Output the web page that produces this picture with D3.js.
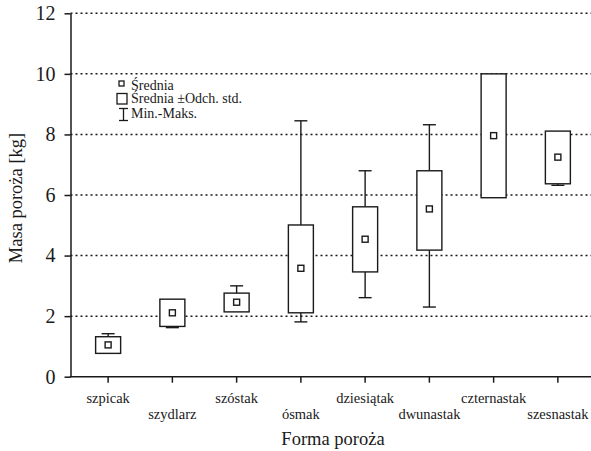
<!DOCTYPE html>
<html><head><meta charset="utf-8">
<script src="https://cdn.jsdelivr.net/npm/d3@7"></script>
<style>body{margin:0;background:#fff}svg{display:block}</style>
</head><body>
<svg id="c" width="591" height="451" style="font-family:'Liberation Serif'"></svg>
<script>
const categories = ["szpicak","szydlarz","szóstak","ósmak","dziesiątak","dwunastak","czternastak","szesnastak"];
const means   = [1.05, 2.11, 2.46, 3.58, 4.54, 5.54, 7.96, 7.25];
const sdLow   = [0.77, 1.66, 2.14, 2.11, 3.46, 4.18, 5.91, 6.37];
const sdHigh  = [1.32, 2.56, 2.76, 5.01, 5.61, 6.80, 10.00, 8.11];
const minVals = [0.77, 1.62, 2.14, 1.81, 2.61, 2.30, 5.91, 6.32];
const maxVals = [1.42, 2.56, 3.00, 8.45, 6.80, 8.32, 10.00, 8.11];
const yTicks = [0, 2, 4, 6, 8, 10, 12];
const legendLabels = ["Średnia", "Średnia ±Odch. std.", "Min.-Maks."];
const xTitle = "Forma poroża";
const yTitle = "Masa poroża [kg]";

const svg = d3.select("#c");
const font = "'Liberation Serif'";
const ink = "#1a1a1a";
const x0 = 70.5, x1 = 591, yTop = 13.3, yBot = 376.7;
const x = d3.scaleBand().domain(categories).range([76, 590]);
const y = d3.scaleLinear().domain([0, 12]).range([yBot, yTop]);
const cx = c => x(c) + x.bandwidth() / 2;

// grid
svg.append("g").selectAll("line").data(yTicks.filter(t => t > 0)).join("line")
  .attr("x1", x0).attr("x2", x1).attr("y1", d => y(d)).attr("y2", d => y(d))
  .attr("stroke", ink).attr("stroke-width", 1.5).attr("stroke-dasharray", "2,3");

// y axis
const ya = svg.append("g").attr("transform", `translate(${x0},0)`)
  .call(d3.axisLeft(y).tickValues(yTicks).tickSize(6).tickPadding(9).tickSizeOuter(0));
ya.attr("font-family", null).attr("font-size", null);
ya.select(".domain").attr("stroke", ink).attr("stroke-width", 1.5);
ya.selectAll(".tick line").attr("stroke", ink).attr("stroke-width", 1.5);
ya.selectAll("text").style("font-family", font).attr("font-size", 20).attr("fill", ink);

// x axis
const xa = svg.append("g").attr("transform", `translate(0,${yBot})`)
  .call(d3.axisBottom(x).tickSize(6).tickSizeOuter(0).tickPadding(9));
xa.attr("font-family", null).attr("font-size", null);
xa.select(".domain").remove();
xa.append("line").attr("x1", x0 - 0.75).attr("x2", x1).attr("stroke", ink).attr("stroke-width", 1.5);
xa.selectAll(".tick line").attr("stroke", ink).attr("stroke-width", 1.5);
xa.selectAll(".tick text").style("font-family", font).attr("font-size", 14.5).attr("fill", ink)
  .attr("dy", (d, i) => i % 2 ? "1.9em" : "0.75em");

// boxes
const g = svg.append("g").attr("fill", "none").attr("stroke", ink).attr("stroke-width", 1.4);
categories.forEach((c, i) => {
  const X = cx(c), bw = 25, cw = 13;
  if (maxVals[i] > sdHigh[i]) {
    g.append("line").attr("x1", X).attr("x2", X).attr("y1", y(sdHigh[i])).attr("y2", y(maxVals[i]));
    g.append("line").attr("x1", X - cw/2).attr("x2", X + cw/2).attr("y1", y(maxVals[i])).attr("y2", y(maxVals[i]));
  }
  if (minVals[i] < sdLow[i]) {
    g.append("line").attr("x1", X).attr("x2", X).attr("y1", y(sdLow[i])).attr("y2", y(minVals[i]));
    g.append("line").attr("x1", X - cw/2).attr("x2", X + cw/2).attr("y1", y(minVals[i])).attr("y2", y(minVals[i]));
  }
  g.append("rect").attr("x", X - bw/2).attr("y", y(sdHigh[i]))
    .attr("width", bw).attr("height", y(sdLow[i]) - y(sdHigh[i])).attr("fill", "#fff");
  g.append("rect").attr("x", X - 3).attr("y", y(means[i]) - 3).attr("width", 6).attr("height", 6);
});

// legend
const lg = svg.append("g").attr("stroke", ink).attr("fill", "none").attr("stroke-width", 1.3);
lg.append("rect").attr("x", 119).attr("y", 81).attr("width", 5).attr("height", 5);
lg.append("rect").attr("x", 117).attr("y", 93.5).attr("width", 10).attr("height", 10.5);
lg.append("line").attr("x1", 119).attr("x2", 128).attr("y1", 108.5).attr("y2", 108.5);
lg.append("line").attr("x1", 123.5).attr("x2", 123.5).attr("y1", 108.5).attr("y2", 120.5);
lg.append("line").attr("x1", 119).attr("x2", 128).attr("y1", 120.5).attr("y2", 120.5);
svg.append("g").selectAll("text").data(legendLabels).join("text")
  .attr("x", 131).attr("y", (d, i) => [89.5, 103, 117.5][i])
  .style("font-family", font).attr("font-size", 14).attr("fill", ink).text(d => d);

// titles
svg.append("text").attr("x", 333).attr("y", 445).attr("text-anchor", "middle")
  .style("font-family", font).attr("font-size", 18.5).attr("fill", ink).text(xTitle);
svg.append("text").attr("transform", "translate(22,198) rotate(-90)").attr("text-anchor", "middle")
  .style("font-family", font).attr("font-size", 18.5).attr("fill", ink).text(yTitle);
</script>
</body></html>
